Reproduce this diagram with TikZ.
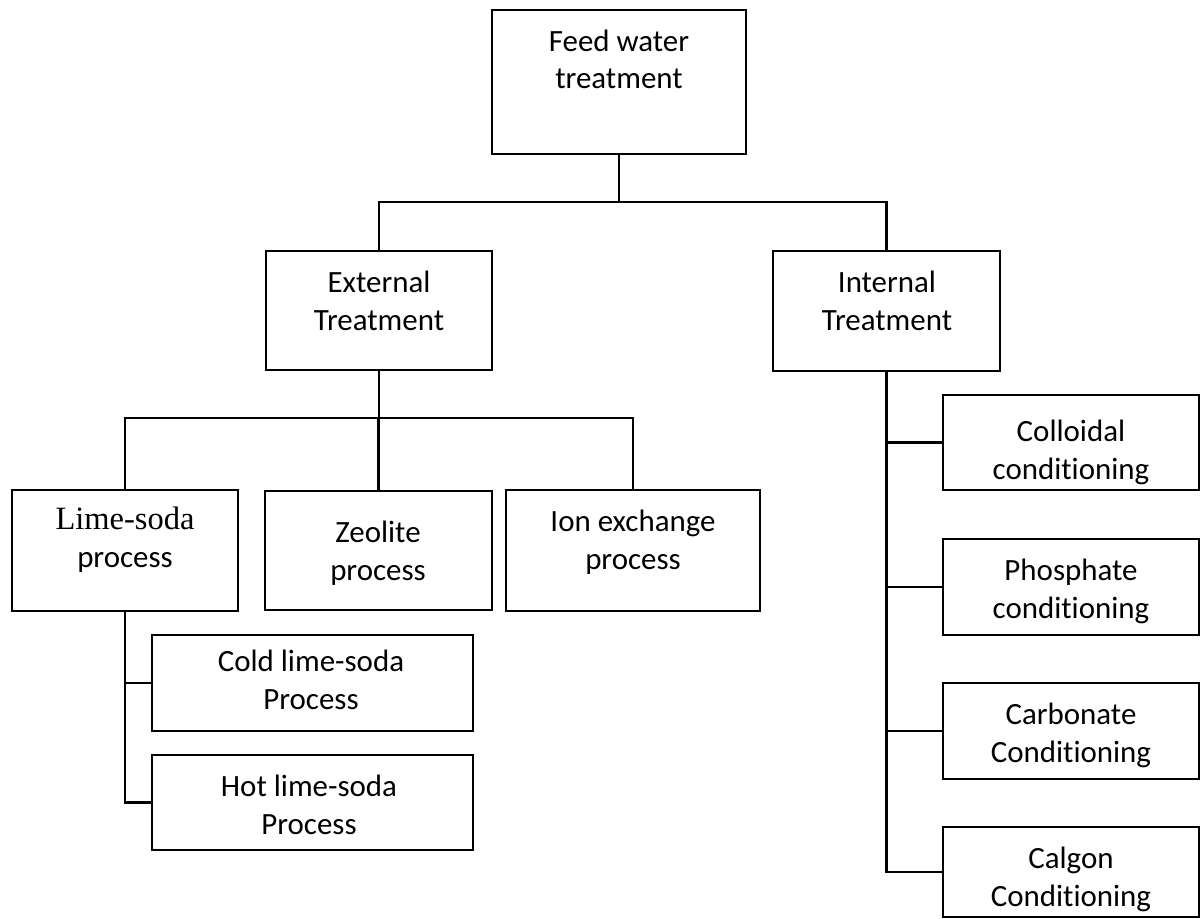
\documentclass[tikz,border=0pt]{standalone}
\usepackage{fontspec}
\setmainfont{Carlito}[Ligatures={NoCommon}]
\newfontfamily\serifx{Liberation Serif}
\newcommand\bxx[5]{\node[box, minimum width={(#4-#2)*0.02cm}, minimum height={(#5-#3)*0.02cm}] (#1) at ({(#2+#4)/2},{(#3+#5)/2}) {};}
\begin{document}
\begin{tikzpicture}[x=0.02cm,y=-0.02cm,
  box/.style={draw, line width=1.2pt, inner sep=0pt},
  lbl/.style={align=center, anchor=base, inner sep=0pt, font=\fontsize{17.6}{21.5}\selectfont},
  conn/.style={line width=1.2pt}]
\useasboundingbox (0,0) rectangle (1200,919);
% boxes
\bxx{feed}{492}{10}{746}{154}
\bxx{ext}{266}{251}{492}{370}
\bxx{int}{773}{251}{1000}{371}
\bxx{lime}{12}{490}{238}{611}
\bxx{zeo}{265}{491}{492}{610}
\bxx{ion}{506}{490}{760}{611}
\bxx{cold}{152}{635}{473}{731}
\bxx{hot}{152}{755}{473}{850}
\bxx{coll}{943}{395}{1199}{490}
\bxx{phos}{943}{539}{1199}{635}
\bxx{carb}{943}{683}{1199}{779}
\bxx{calg}{943}{827}{1199}{917}
% labels (anchor = baseline of the last line)
\node[lbl] (feedt) at (619,89) {Feed water\\treatment};
\node[lbl] (extt) at (379,330) {External\\Treatment};
\node[lbl] (intt) at (887,330) {Internal\\Treatment};
\node[lbl] (limet) at (125,567) {{\serifx\fontsize{18.5}{21.5}\selectfont Lime-soda}\\process};
\node[lbl] (zeot) at (378,580) {Zeolite\\process};
\node[lbl] (iont) at (633,569) {Ion exchange\\process};
\node[lbl] (coldt) at (311,709) {Cold lime-soda\\Process};
\node[lbl] (hott) at (309,834) {Hot lime-soda\\Process};
\node[lbl] (collt) at (1071,479) {Colloidal\\conditioning};
\node[lbl] (phost) at (1071,618) {Phosphate\\conditioning};
\node[lbl] (carbt) at (1071,762) {Carbonate\\Conditioning};
\node[lbl] (calgt) at (1071,906) {Calgon\\Conditioning};
% connectors
\coordinate (j1) at (619,202);
\coordinate (j2) at (379,418);
\draw[conn] (feed.south) -- (j1);
\draw[conn] (ext.north) -- (ext.north |- j1) -- (int.north |- j1) -- (int.north);
\draw[conn] (ext.south) -- (ext.south |- j2);
\draw[conn] (lime.north) -- (lime.north |- j2) -- (ion.north |- j2) -- (ion.north);
\draw[conn] (zeo.north) -- (zeo.north |- j2);
\draw[conn] (lime.south) -- (lime.south |- hot.west) -- (hot.west);
\draw[conn] (cold.west) -- (cold.west -| lime.south);
\draw[conn] (int.south) -- (int.south |- calg.west) -- (calg.west);
\draw[conn] (coll.west) -- (coll.west -| int.south);
\draw[conn] (phos.west) -- (phos.west -| int.south);
\draw[conn] (carb.west) -- (carb.west -| int.south);
\end{tikzpicture}
\end{document}
